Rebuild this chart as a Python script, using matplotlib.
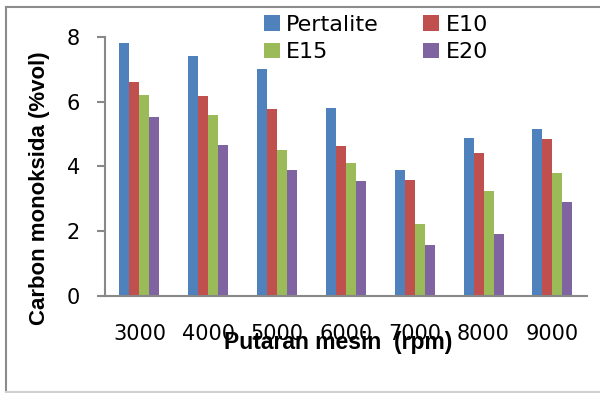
import numpy as np
import matplotlib
matplotlib.use("Agg")
import matplotlib.pyplot as plt
from matplotlib.lines import Line2D

# data
rpm = ["3000", "4000", "5000", "6000", "7000", "8000", "9000"]
pertalite = [7.8, 7.4, 7.0, 5.8, 3.9, 4.88, 5.15]
e10 = [6.6, 6.17, 5.77, 4.63, 3.58, 4.41, 4.85]
e15 = [6.2, 5.59, 4.5, 4.1, 2.22, 3.24, 3.8]
e20 = [5.52, 4.65, 3.89, 3.55, 1.57, 1.91, 2.9]

series = [("Pertalite", pertalite, "#4F81BD"),
          ("E10", e10, "#C0504D"),
          ("E15", e15, "#9BBB59"),
          ("E20", e20, "#8064A2")]

fig = plt.figure(figsize=(6, 3.93), dpi=100)
ax = fig.add_axes([0.175, 0.2468, 0.803, 0.6591])

x = np.arange(len(rpm))
w = 0.145
bars = []
for i, (name, vals, col) in enumerate(series):
    bars.append(ax.bar(x + (i - 1.5) * w, vals, width=w, color=col, label=name))

ax.set_xlim(-0.5, len(rpm) - 0.5)
ax.set_ylim(0, 8)
ax.set_yticks([0, 2, 4, 6, 8])
ax.set_xticks(x)
ax.set_xticklabels(rpm)

grey = "#888888"
for s in ["top", "right"]:
    ax.spines[s].set_visible(False)
for s in ["left", "bottom"]:
    ax.spines[s].set_color(grey)
    ax.spines[s].set_linewidth(1.5)

ax.tick_params(axis="y", direction="out", length=6, width=1.5, color=grey,
               pad=12, labelsize=15)
ax.tick_params(axis="x", length=0, pad=20, labelsize=15)

ax.set_ylabel("Carbon monoksida (%vol)", family="Liberation Sans",
              fontweight="bold", fontsize=16, va="center")
ax.yaxis.set_label_coords(-0.135, 0.417)
ax.set_xlabel("Putaran mesin  (rpm)", family="Liberation Sans",
              fontweight="bold", fontsize=16.5, va="center")
ax.xaxis.set_label_coords(0.483, -0.18)

# legend filled row by row like the original (Pertalite, E10 / E15, E20)
order = [0, 2, 1, 3]
fig.legend([bars[i] for i in order], [series[i][0] for i in order],
           loc="upper left", bbox_to_anchor=(264 / 600, 1 - 15 / 393),
           ncol=2, frameon=False, fontsize=16, borderpad=0,
           handlelength=0.7, handleheight=0.7, handletextpad=0.3,
           columnspacing=2.0, labelspacing=0.33, borderaxespad=0)

# outer chart border
fig.add_artist(Line2D([0.01, 1.0], [1 - 7 / 393, 1 - 7 / 393],
                      transform=fig.transFigure, color="#8c8c8c", lw=1.5))
fig.add_artist(Line2D([0.01, 0.01], [1 - 7 / 393, 1 - 392 / 393],
                      transform=fig.transFigure, color="#8c8c8c", lw=1.5))
fig.add_artist(Line2D([0.01, 1.0], [1 - 392 / 393, 1 - 392 / 393],
                      transform=fig.transFigure, color="#d0d0d0", lw=1.5))

fig.savefig("out.png", dpi=100)
